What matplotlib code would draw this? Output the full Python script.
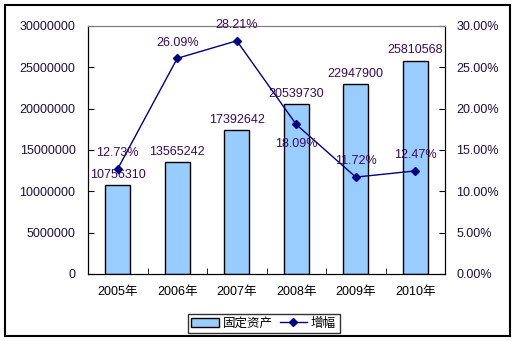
import matplotlib
matplotlib.use('Agg')
from matplotlib import pyplot as plt
from matplotlib.patches import Rectangle, Patch
from matplotlib.lines import Line2D
from matplotlib.ticker import FuncFormatter
import numpy as np

plt.rcParams['font.family'] = ['Liberation Sans', 'Noto Sans CJK SC', 'DejaVu Sans']

years = ['2005年', '2006年', '2007年', '2008年', '2009年', '2010年']
assets = [10756310, 13565242, 17392642, 20539730, 22947900, 25810568]
growth = [12.73, 26.09, 28.21, 18.09, 11.72, 12.47]
# label above (+1) or below (-1) each point
growth_pos = [1, 1, 1, -1, 1, 1]

bar_color = '#99CCFF'
line_color = '#000080'
label_color = '#3a0a5a'
tick_color = '#1a1040'
fs = 9

fig = plt.figure(figsize=(5.15, 3.41), dpi=100)
ax = fig.add_axes([88 / 515, 67 / 341, 357 / 515, 248 / 341])
ax2 = ax.twinx()

x = np.arange(len(years))
ax.bar(x, assets, width=0.42, color=bar_color, edgecolor='black', linewidth=1, zorder=2)
for xi, v in zip(x, assets):
    ax.annotate(str(v), (xi, v), xytext=(0, 3), textcoords='offset points',
                ha='center', va='bottom', fontsize=fs, color=label_color)

ax.set_xlim(-0.5, 5.5)
ax.set_ylim(0, 30000000)
ax.set_yticks(np.arange(0, 30000001, 5000000))
ax.yaxis.set_major_formatter(FuncFormatter(lambda v, _: '%d' % v))
ax.set_xticks(x)
ax.set_xticklabels(years)
ax.set_xticks(np.arange(-0.5, 6, 1), minor=True)
ax.tick_params(axis='x', which='major', length=0, pad=9, labelsize=fs, labelcolor='black')
ax.tick_params(axis='x', which='minor', direction='in', length=4)
ax.tick_params(axis='y', direction='in', length=4, labelsize=fs, labelcolor=tick_color, pad=9)

ax2.plot(x, growth, color=line_color, linewidth=1, marker='D', markersize=4, zorder=3)
for xi, g, p in zip(x, growth, growth_pos):
    ax2.annotate('%.2f%%' % g, (xi, g), xytext=(0, 7 if p > 0 else -10), textcoords='offset points',
                 ha='center', va='bottom' if p > 0 else 'top', fontsize=fs, color=label_color)
ax2.set_ylim(0, 30)
ax2.set_yticks(np.arange(0, 30.1, 5))
ax2.yaxis.set_major_formatter(FuncFormatter(lambda v, _: '%.2f%%' % v))
ax2.tick_params(axis='y', direction='in', length=4, labelsize=fs, labelcolor=tick_color, pad=8)

for a in (ax, ax2):
    a.spines['top'].set_color('#808080')
    a.spines['left'].set_color('black')
    a.spines['right'].set_color('black')
    a.spines['bottom'].set_color('black')

handles = [Patch(facecolor=bar_color, edgecolor='black', linewidth=1),
           Line2D([], [], color=line_color, linewidth=1, marker='D', markersize=4)]
fig.legend(handles, ['固定资产', '增幅'], loc='lower center', bbox_to_anchor=(0.512, 0.022),
           ncol=2, frameon=True, fancybox=False, edgecolor='black', fontsize=fs,
           handlelength=2.2, handleheight=0.65, handletextpad=0.3, columnspacing=0.55,
           borderpad=0.3, borderaxespad=0)

fig.patches.append(Rectangle((5 / 515, 5 / 341), 505 / 515, 331 / 341, transform=fig.transFigure,
                             fill=False, edgecolor='black', linewidth=1.5))

fig.savefig('out.png', dpi=100)
